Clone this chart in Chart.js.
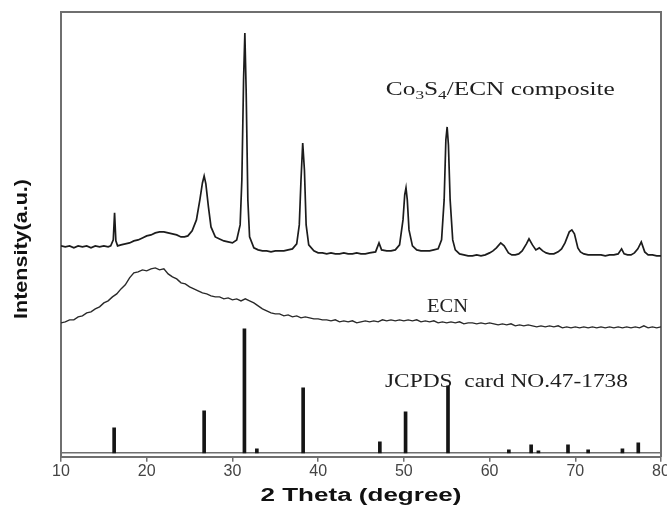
<!DOCTYPE html>
<html><head><meta charset="utf-8">
<script src="https://cdn.jsdelivr.net/npm/chart.js@4.4.1/dist/chart.umd.min.js"></script>
<style>html,body{margin:0;padding:0;background:#fff}canvas{display:block}</style>
</head><body>
<canvas id="c" width="667" height="506"></canvas>
<script>
// ---- data (2θ in degrees, intensity in arbitrary units) ----
const xTickValues = [10, 20, 30, 40, 50, 60, 70, 80];

const compositeTheta = [
  10.0,10.5,11.0,11.5,12.0,12.5,13.0,13.5,14.0,14.5,
  15.0,15.5,15.8,16.1,16.25,16.4,16.6,17.0,17.5,18.0,
  18.5,19.0,19.5,20.0,20.5,21.0,21.5,22.0,22.5,23.0,
  23.5,24.0,24.4,24.8,25.3,25.8,26.2,26.5,26.7,26.9,
  27.2,27.5,28.0,28.5,29.0,29.5,30.0,30.5,30.9,31.1,
  31.3,31.45,31.6,31.8,32.0,32.5,33.0,33.5,34.0,34.5,
  35.0,35.5,36.0,36.5,37.0,37.5,37.8,38.0,38.2,38.4,
  38.6,38.9,39.5,40.0,40.5,41.0,41.5,42.0,42.5,43.0,
  43.5,44.0,44.5,45.0,45.5,46.0,46.7,47.1,47.4,48.0,
  48.5,49.0,49.5,49.9,50.1,50.25,50.4,50.6,51.0,51.5,
  52.0,52.5,53.0,53.5,54.0,54.4,54.7,54.9,55.05,55.2,
  55.4,55.7,56.0,56.5,57.0,57.5,58.0,58.5,59.0,59.5,
  60.0,60.4,60.8,61.3,61.7,62.2,62.6,63.0,63.4,63.8,
  64.3,64.6,65.0,65.4,65.8,66.2,66.6,67.0,67.5,68.0,
  68.4,68.8,69.3,69.6,69.9,70.3,70.6,71.0,71.5,72.0,
  72.5,73.0,73.5,74.0,74.5,75.0,75.4,75.7,76.1,76.5,
  76.9,77.3,77.7,78.1,78.5,79.0,79.5,80.0
];
const compositeIntensity = [
  211,210,211,209,211,210,211,209,211,210,
  211,210,211,217,244,216,211,212,213,214,
  216,217,219,221,222,224,225,225,224,223,
  222,220,220,221,226,237,257,274,281,273,
  250,230,220,218,216,215,214,217,232,277,
  377,424,367,257,220,209,207,206,206,205,
  206,206,206,207,208,213,232,277,314,287,
  232,212,206,204,204,203,204,203,203,204,
  203,203,204,203,203,204,205,214,207,206,
  206,207,212,237,262,269,257,227,211,207,
  206,206,206,207,208,217,257,317,330,312,
  257,217,207,203,202,201,201,202,201,202,
  204,206,209,214,211,204,202,202,203,206,
  213,218,212,207,209,206,204,203,203,205,
  208,214,225,227,223,209,205,203,202,202,
  202,202,201,202,202,203,208,203,202,202,
  204,208,215,205,202,202,201,201
];

const ecnTheta = [
  10,10.5,11,11.5,12,12.5,13,13.5,14,14.5,
  15,15.5,16,16.5,17,17.5,18,18.5,19,19.5,
  20,20.5,21,21.5,22,22.5,23,23.5,24,24.5,
  25,25.5,26,26.5,27,27.5,28,28.5,29,29.5,
  30,30.5,31,31.5,32,32.5,33,33.5,34,34.5,
  35,35.5,36,36.5,37,37.5,38,38.5,39,39.5,
  40,40.5,41,41.5,42,42.5,43,43.5,44,44.5,
  45,45.5,46,46.5,47,47.5,48,48.5,49,49.5,
  50,50.5,51,51.5,52,52.5,53,53.5,54,54.5,
  55,55.5,56,56.5,57,57.5,58,58.5,59,59.5,
  60,60.5,61,61.5,62,62.5,63,63.5,64,64.5,
  65,65.5,66,66.5,67,67.5,68,68.5,69,69.5,
  70,70.5,71,71.5,72,72.5,73,73.5,74,74.5,
  75,75.5,76,76.5,77,77.5,78,78.5,79,79.5,
  80
];
const ecnIntensity = [
  134,135,137,137,140,141,144,145,148,150,
  154,156,160,163,168,172,179,184,185,187,
  186,188,189,187,188,183,180,178,174,173,
  170,168,166,164,163,161,160,160,158,159,
  157,158,156,158,156,154,151,148,146,144,
  143,143,141,142,140,141,139,140,139,138,
  138,137,137,136,137,135,136,135,136,134,
  135,136,135,136,135,137,136,137,136,137,
  136,137,136,137,135,136,135,136,134,135,
  134,135,134,135,133,134,134,133,134,133,
  134,133,132,133,132,133,131,132,131,132,
  131,130,131,130,131,130,131,129,130,129,
  130,129,130,129,130,129,130,129,130,129,
  130,129,130,129,130,129,131,129,130,129,
  130
];

// JCPDS card No. 47-1738 reference lines
const cardTheta     = [16.2, 26.7, 31.4, 32.85, 38.25, 47.2, 50.2, 55.15, 62.25, 64.85, 65.7, 69.15, 71.5, 75.5, 77.35];
const cardIntensity = [29,   46,   128,  8,     69,    15,   45,   71,    7,     12,    6,    12,    7,    8,    14];
const cardBaseline  = 4;

const labelComposite = [["Co", false], ["3", true], ["S", false], ["4", true], ["/ECN composite", false]];
const labelECN = "ECN";
const labelCard = "JCPDS  card NO.47-1738";
const xAxisTitle = "2 Theta (degree)";
const yAxisTitle = "Intensity(a.u.)";

// ---- build datasets ----
const toPoints = (xs, ys) => xs.map((x, i) => ({ x: x, y: ys[i] }));
const cardBars = cardTheta.map((x, i) => ({ x: x, y: [cardBaseline, cardIntensity[i]] }));

const serif = '"Liberation Serif", "Times New Roman", serif';
const sans = '"Liberation Sans", Arial, Helvetica, sans-serif';

function drawRuns(ctx, parts, x, y, size, family, weight, targetW) {
  ctx.save();
  let w = 0;
  for (const [t, sub] of parts) {
    ctx.font = weight + ' ' + (sub ? size * 0.68 : size) + 'px ' + family;
    w += ctx.measureText(t).width;
  }
  const k = targetW / w;
  ctx.translate(x, y);
  ctx.scale(k, 1);
  let cx = 0;
  for (const [t, sub] of parts) {
    ctx.font = weight + ' ' + (sub ? size * 0.68 : size) + 'px ' + family;
    ctx.fillText(t, cx, sub ? size * 0.25 : 0);
    cx += ctx.measureText(t).width;
  }
  ctx.restore();
}

const textPlugin = {
  id: 'annotText',
  afterDraw(chart) {
    const ctx = chart.ctx;
    const xs = chart.scales.x, ys = chart.scales.y;
    ctx.save();
    ctx.fillStyle = '#1e1e1e';
    ctx.textAlign = 'left';
    ctx.textBaseline = 'alphabetic';
    drawRuns(ctx, labelComposite, xs.getPixelForValue(47.9), ys.getPixelForValue(362), 18, serif, 'normal', 229);
    drawRuns(ctx, [[labelECN, false]], xs.getPixelForValue(52.7), ys.getPixelForValue(145), 18, serif, 'normal', 41);
    drawRuns(ctx, [[labelCard, false]], xs.getPixelForValue(47.8), ys.getPixelForValue(70), 18, serif, 'normal', 243);
    // axis titles
    ctx.fillStyle = '#111';
    const cx = (chart.chartArea.left + chart.chartArea.right) / 2;
    drawRuns(ctx, [[xAxisTitle, false]], cx - 201 / 2, 501, 18, sans, 'bold', 201);
    ctx.save();
    ctx.translate(27, 249);
    ctx.rotate(-Math.PI / 2);
    drawRuns(ctx, [[yAxisTitle, false]], -70, 0, 18, sans, 'bold', 140);
    ctx.restore();
    ctx.restore();
  }
};

const frameColor = '#6f6f6f';

new Chart(document.getElementById('c'), {
  type: 'line',
  data: {
    datasets: [
      { type: 'line', label: 'Co3S4/ECN composite', data: toPoints(compositeTheta, compositeIntensity),
        borderColor: '#1c1c1c', borderWidth: 1.7, pointRadius: 0, tension: 0, order: 1 },
      { type: 'line', label: 'ECN', data: toPoints(ecnTheta, ecnIntensity),
        borderColor: '#2a2a2a', borderWidth: 1.4, pointRadius: 0, tension: 0, order: 2 },
      { type: 'line', label: 'baseline', data: [{ x: 10, y: cardBaseline }, { x: 80, y: cardBaseline }],
        borderColor: '#707070', borderWidth: 1.6, pointRadius: 0, order: 4 },
      { type: 'bar', label: 'JCPDS 47-1738', data: cardBars,
        backgroundColor: '#151515', borderWidth: 0, barThickness: 3, order: 3 }
    ]
  },
  options: {
    responsive: false,
    animation: false,
    devicePixelRatio: 1,
    layout: { padding: { left: 61, right: 6, top: 12, bottom: 25 }, autoPadding: false },
    plugins: { legend: { display: false }, tooltip: { enabled: false } },
    scales: {
      x: {
        type: 'linear', position: 'bottom', min: 10, max: 80, offset: false,
        afterBuildTicks: (s) => { s.ticks = xTickValues.map(v => ({ value: v })); },
        afterFit: (s) => { s.paddingLeft = 0; s.paddingRight = 0; },
        ticks: { font: { family: sans, size: 16 }, color: '#444', padding: 0, maxRotation: 0 },
        grid: { display: true, drawOnChartArea: false, drawTicks: true, tickLength: 5, color: frameColor, lineWidth: 1.5, offset: false },
        border: { display: true, color: frameColor, width: 2 }
      },
      xTop: {
        type: 'linear', position: 'top', min: 10, max: 80, offset: false,
        ticks: { display: false }, grid: { display: false, drawTicks: false },
        border: { display: true, color: frameColor, width: 2 }
      },
      y: {
        type: 'linear', position: 'left', min: 0, max: 445,
        ticks: { display: false }, grid: { display: false, drawTicks: false },
        border: { display: true, color: frameColor, width: 2 }
      },
      yRight: {
        type: 'linear', position: 'right', min: 0, max: 445,
        ticks: { display: false }, grid: { display: false, drawTicks: false },
        border: { display: true, color: frameColor, width: 2 }
      }
    }
  },
  plugins: [textPlugin]
});
</script>
</body></html>
